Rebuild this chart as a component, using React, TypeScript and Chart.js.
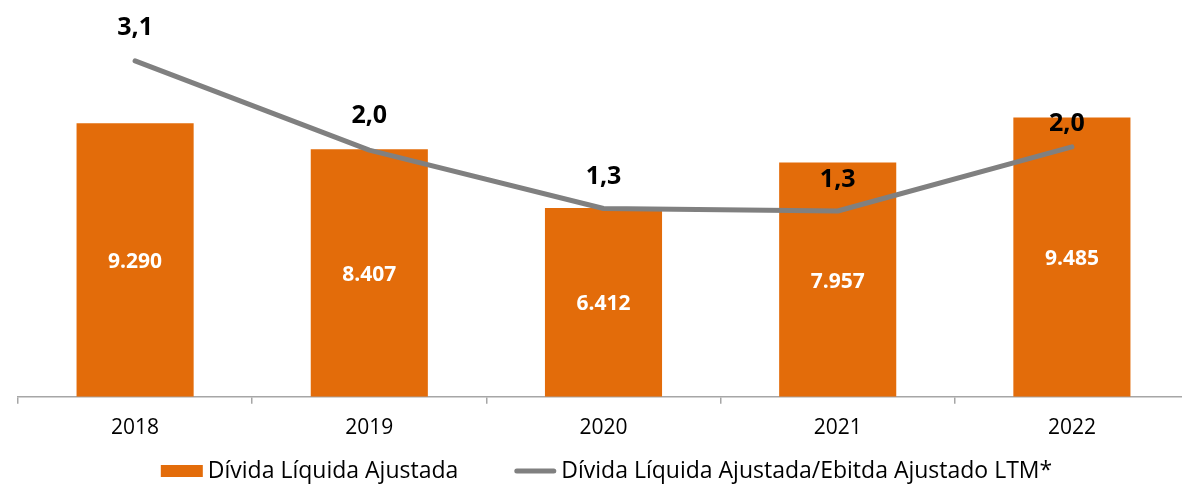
import React, { useEffect, useRef } from "react";
import { Chart, registerables } from "chart.js";

Chart.register(...registerables);

const categories = ["2018", "2019", "2020", "2021", "2022"];
const debtValues = [9290, 8407, 6412, 7957, 9485];
const ratioValues = [3.1, 2.0, 1.28, 1.25, 2.04];
const seriesLabels = [
  "Dívida Líquida Ajustada",
  "Dívida Líquida Ajustada/Ebitda Ajustado LTM*",
];

const ORANGE = "#E36C0A";
const GRAY = "#808080";
const AXIS = "#a6a6a6";
const FONT = "'Open Sans', 'Noto Sans', sans-serif";

// label offsets (style, not data)
const lineLabelDX = [0, 0, 0, 0, -5];
const lineLabelDY = [33, 34, 32, 31, 23];

function fmtThousands(v: number) {
  return String(Math.round(v)).replace(/\B(?=(\d{3})+(?!\d))/g, ".");
}
function fmtDecimal(v: number) {
  return v.toFixed(1).replace(".", ",");
}

const valueLabels = {
  id: "valueLabels",
  afterDatasetsDraw(chart: any) {
    const ctx = chart.ctx;
    ctx.save();
    ctx.textAlign = "center";
    ctx.textBaseline = "middle";
    const barMeta = chart.getDatasetMeta(0);
    ctx.font = `bold 21px ${FONT}`;
    ctx.fillStyle = "#ffffff";
    barMeta.data.forEach((el: any, i: number) => {
      const p = el.getProps(["x", "y", "base"], true);
      ctx.fillText(fmtThousands(debtValues[i]), p.x, (p.y + p.base) / 2 + 2);
    });
    const lineMeta = chart.getDatasetMeta(1);
    ctx.font = `bold 25px ${FONT}`;
    ctx.fillStyle = "#000000";
    lineMeta.data.forEach((el: any, i: number) => {
      ctx.fillText(
        fmtDecimal(ratioValues[i]),
        el.x + lineLabelDX[i],
        el.y - lineLabelDY[i]
      );
    });
    ctx.restore();
  },
};

const bottomLegend = {
  id: "bottomLegend",
  afterDraw(chart: any) {
    const ctx = chart.ctx;
    ctx.save();
    ctx.font = `23px ${FONT}`;
    const w1 = ctx.measureText(seriesLabels[0]).width;
    const w2 = ctx.measureText(seriesLabels[1]).width;
    const boxW = 42;
    const gap = 5;
    const spacing = 56;
    const total = boxW + gap + w1 + spacing + boxW + gap + w2;
    const cx = (chart.chartArea.left + chart.chartArea.right) / 2 + 3;
    const cy = 471;
    let x = cx - total / 2;
    ctx.fillStyle = ORANGE;
    ctx.fillRect(x, cy - 6, boxW, 12);
    x += boxW + gap;
    ctx.fillStyle = "#000";
    ctx.textAlign = "left";
    ctx.textBaseline = "middle";
    ctx.fillText(seriesLabels[0], x, cy);
    x += w1 + spacing;
    ctx.strokeStyle = GRAY;
    ctx.lineWidth = 5;
    ctx.lineCap = "round";
    ctx.beginPath();
    ctx.moveTo(x + 2.5, cy);
    ctx.lineTo(x + boxW - 2.5, cy);
    ctx.stroke();
    x += boxW + gap;
    ctx.fillText(seriesLabels[1], x, cy);
    ctx.restore();
  },
};

export default function App() {
  const ref = useRef<HTMLCanvasElement | null>(null);

  useEffect(() => {
    if (!ref.current) return;
    const chart = new Chart(ref.current, {
      type: "bar",
      data: {
        labels: categories,
        datasets: [
          {
            type: "bar",
            label: seriesLabels[0],
            data: debtValues,
            backgroundColor: ORANGE,
            borderWidth: 0,
            categoryPercentage: 0.5,
            barPercentage: 1,
            yAxisID: "y",
            order: 2,
          },
          {
            type: "line",
            label: seriesLabels[1],
            data: ratioValues,
            borderColor: GRAY,
            backgroundColor: GRAY,
            borderWidth: 5,
            borderCapStyle: "round",
            borderJoinStyle: "round",
            pointRadius: 0,
            tension: 0,
            yAxisID: "y1",
            order: 1,
          },
        ],
      },
      options: {
        responsive: false,
        animation: false,
        layout: { padding: { left: 18, right: 1, top: 0, bottom: 34 } },
        plugins: {
          legend: { display: false },
          tooltip: { enabled: false },
        },
        scales: {
          x: {
            offset: true,
            grid: {
              display: true,
              offset: true,
              drawOnChartArea: false,
              drawTicks: true,
              tickLength: 7,
              color: AXIS,
              lineWidth: 1.5,
            },
            border: { display: true, color: AXIS, width: 1.5 },
            ticks: {
              color: "#000",
              font: { family: FONT, size: 21 },
              padding: 12,
              maxRotation: 0,
            },
          },
          y: {
            display: false,
            min: 0,
            max: 13480,
          },
          y1: {
            display: false,
            position: "right",
            min: -1.04,
            max: 3.85,
          },
        },
      },
      plugins: [valueLabels, bottomLegend],
    });
    return () => chart.destroy();
  }, []);

  return (
    <div
      style={{
        position: "fixed",
        left: 0,
        top: 0,
        width: 1182,
        height: 487,
        overflow: "hidden",
        background: "#fff",
      }}
    >
      <canvas ref={ref} width={1190} height={487} style={{ display: "block" }} />
    </div>
  );
}
